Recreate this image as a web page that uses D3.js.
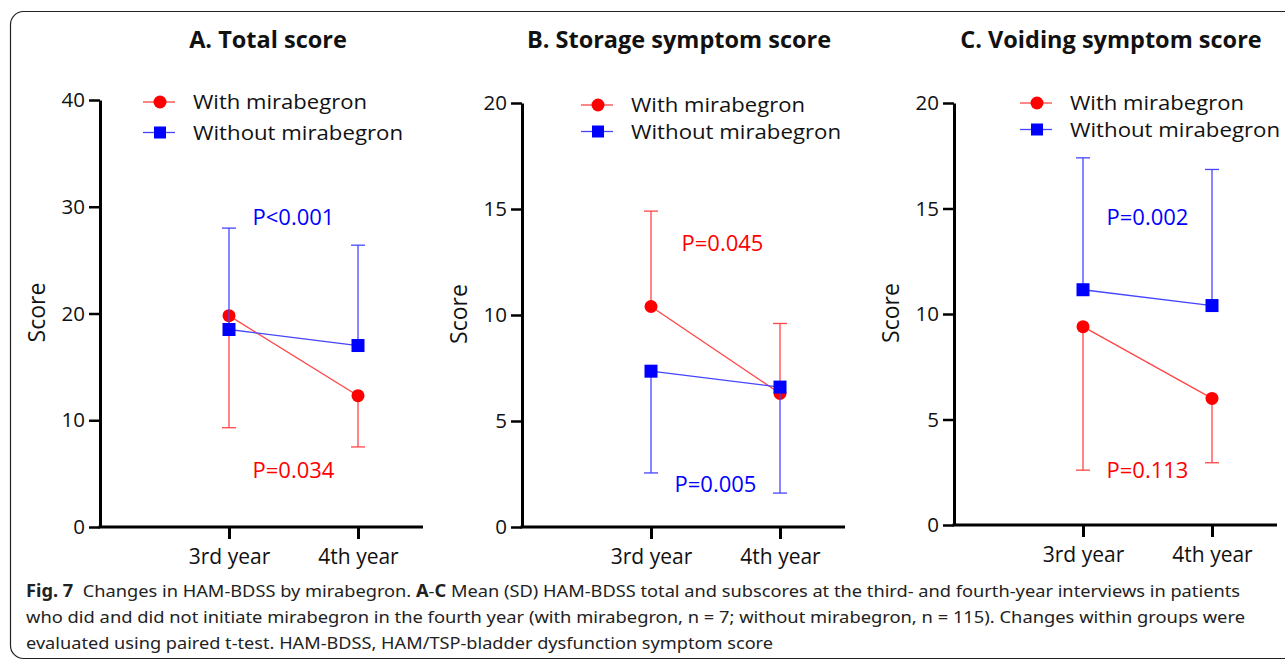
<!DOCTYPE html>
<html>
<head>
<meta charset="utf-8">
<script src="https://cdn.jsdelivr.net/npm/d3@7"></script>
<style>
  body { margin: 0; background: #fff; }
  svg { display: block; }
  text { font-family: "Open Sans", "DejaVu Sans", sans-serif; }
</style>
</head>
<body>
<script>
// ---- data ----
var years = ["3rd year", "4th year"];
var panelTitles = ["A. Total score", "B. Storage symptom score", "C. Voiding symptom score"];
var yMax = [40, 20, 20];
var yTicks = [[0, 10, 20, 30, 40], [0, 5, 10, 15, 20], [0, 5, 10, 15, 20]];

var withMean = [[19.8, 12.3], [10.4, 6.3], [9.4, 6.0]];
var withSD = [[10.5, 4.8], [4.5, 3.3], [6.8, 3.05]];
var withoutMean = [[18.5, 17.0], [7.35, 6.6], [11.15, 10.4]];
var withoutSD = [[9.5, 9.4], [4.8, 5.0], [6.25, 6.45]];
// which side the SD whisker is drawn (+1 up, -1 down)
var withSide = [-1, 1, -1];
var withoutSide = [1, -1, 1];

var pWith = ["P=0.034", "P=0.045", "P=0.113"];
var pWithout = ["P<0.001", "P=0.005", "P=0.002"];
var pWithY = [5.3, 13.4, 2.6];
var pWithoutY = [29.0, 2.0, 14.6];

var legendLabels = ["With mirabegron", "Without mirabegron"];

var captionLines = [
    [["Fig. 7", true], ["  Changes in HAM-BDSS by mirabegron. ", false], ["A", true], ["-", false], ["C", true],
     [" Mean (SD) HAM-BDSS total and subscores at the third- and fourth-year interviews in patients", false]],
    [["who did and did not initiate mirabegron in the fourth year (with mirabegron, n = 7; without mirabegron, n = 115). Changes within groups were", false]],
    [["evaluated using paired t-test. HAM-BDSS, HAM/TSP-bladder dysfunction symptom score", false]]
];

// ---- layout ----
var width = 1285,
    height = 662;
var panelLeft = [100, 522, 954],
    panelTop = [100, 103, 103],
    panelBottom = [527, 527, 525],
    axisLen = 323;
var legendOffset = [60, 76, 83],
    legendTop = [102, 105, 103],
    legendGap = [30.5, 26.5, 26.5],
    legendTextW = [174, 210];

var red = "#ff0000",
    blue = "#0000ff";

var svg = d3.select("body").append("svg")
    .attr("width", width)
    .attr("height", height);

// frame round the figure
svg.append("rect")
    .attr("x", 10.5)
    .attr("y", 11.5)
    .attr("width", 1300)
    .attr("height", 647)
    .attr("rx", 13)
    .attr("fill", "none")
    .attr("stroke", "#222")
    .attr("stroke-width", 1.2);

panelTitles.forEach(function(title, i) {
    var left = panelLeft[i];
    var y = d3.scaleLinear()
        .domain([0, yMax[i]])
        .range([panelBottom[i], panelTop[i]]);
    var x = d3.scalePoint()
        .domain(years)
        .range([left + 129, left + 258]);

    var g = svg.append("g").attr("class", "panel");

    // title
    g.append("text")
        .attr("x", left + (i === 0 ? 168 : 157))
        .attr("y", 48)
        .attr("text-anchor", "middle")
        .style("font-size", "23.5px")
        .style("font-weight", "bold")
        .attr("fill", "#111")
        .text(title);

    // y axis
    var yAxis = g.append("g")
        .attr("transform", "translate(" + left + ",0)")
        .call(d3.axisLeft(y).tickValues(yTicks[i]).tickSize(11).tickPadding(4).tickSizeOuter(0));
    yAxis.select(".domain").attr("stroke-width", 3);
    yAxis.selectAll(".tick line").attr("stroke-width", 2.5);
    yAxis.selectAll(".tick text").style("font-size", "20.5px").style("font-family", "Open Sans").attr("fill", "#111");

    // x axis
    var xAxis = g.append("g")
        .attr("transform", "translate(0," + panelBottom[i] + ")")
        .call(d3.axisBottom(x).tickSize(12).tickPadding(10));
    xAxis.select(".domain").remove();
    xAxis.append("line")
        .attr("x1", left - 1.5)
        .attr("x2", left + axisLen)
        .attr("stroke", "#000")
        .attr("stroke-width", 3);
    xAxis.selectAll(".tick line").attr("stroke-width", 3);
    xAxis.selectAll(".tick text").style("font-size", "21px").style("font-family", "Open Sans").attr("fill", "#111");

    // y label
    g.append("text")
        .attr("transform", "translate(" + (left - 63) + "," + ((panelTop[i] + panelBottom[i]) / 2 - 1) + ") rotate(-90)")
        .attr("text-anchor", "middle")
        .attr("dy", "0.35em")
        .attr("fill", "#111")
        .style("font-size", "23px")
        .text("Score");

    var series = [
        { mean: withMean[i], sd: withSD[i], side: withSide[i], color: red, line: "#ff4545", shape: "circle" },
        { mean: withoutMean[i], sd: withoutSD[i], side: withoutSide[i], color: blue, line: "#4545ff", shape: "square" }
    ];
    series.forEach(function(s) {
        var sg = g.append("g");
        // error bars
        years.forEach(function(yr, j) {
            var end = s.mean[j] + s.side * s.sd[j];
            sg.append("line")
                .attr("x1", x(yr)).attr("x2", x(yr))
                .attr("y1", y(s.mean[j])).attr("y2", y(end))
                .attr("stroke", s.line).attr("stroke-width", 1.3);
            sg.append("line")
                .attr("x1", x(yr) - 7).attr("x2", x(yr) + 7)
                .attr("y1", y(end)).attr("y2", y(end))
                .attr("stroke", s.line).attr("stroke-width", 1.3);
        });
        sg.append("path")
            .datum(s.mean)
            .attr("fill", "none")
            .attr("stroke", s.line)
            .attr("stroke-width", 1.3)
            .attr("d", d3.line()
                .x(function(d, j) { return x(years[j]); })
                .y(function(d) { return y(d); }));
        if (s.shape === "circle") {
            sg.selectAll("circle")
                .data(s.mean)
                .enter().append("circle")
                .attr("cx", function(d, j) { return x(years[j]); })
                .attr("cy", function(d) { return y(d); })
                .attr("r", 6.5)
                .attr("fill", s.color);
        } else {
            sg.selectAll("rect")
                .data(s.mean)
                .enter().append("rect")
                .attr("x", function(d, j) { return x(years[j]) - 6.5; })
                .attr("y", function(d) { return y(d) - 6.5; })
                .attr("width", 13)
                .attr("height", 13)
                .attr("fill", s.color);
        }
    });

    // p-values
    var mid = (x(years[0]) + x(years[1])) / 2;
    g.append("text")
        .attr("x", mid + (i === 1 ? 7 : 0))
        .attr("y", y(pWithY[i]))
        .attr("dy", "0.35em")
        .attr("text-anchor", "middle")
        .attr("fill", red)
        .style("font-size", "22px")
        .text(pWith[i]);
    g.append("text")
        .attr("x", mid)
        .attr("y", y(pWithoutY[i]))
        .attr("dy", "0.35em")
        .attr("text-anchor", "middle")
        .attr("fill", blue)
        .style("font-size", "22px")
        .text(pWithout[i]);

    // legend
    var lx = left + legendOffset[i];
    legendLabels.forEach(function(lab, k) {
        var row = g.append("g").attr("transform", "translate(" + lx + "," + (legendTop[i] + k * legendGap[i]) + ")");
        row.append("line")
            .attr("x1", -17).attr("x2", 15)
            .attr("stroke", k === 0 ? "#ff4545" : "#4545ff")
            .attr("stroke-width", 1.3);
        if (k === 0) {
            row.append("circle").attr("r", 6.5).attr("fill", red);
        } else {
            row.append("rect").attr("x", -6).attr("y", -6).attr("width", 12).attr("height", 12).attr("fill", blue);
        }
        row.append("text")
            .attr("x", 33)
            .attr("dy", "0.36em")
            .attr("fill", "#111")
            .attr("textLength", legendTextW[k])
            .attr("lengthAdjust", "spacingAndGlyphs")
            .style("font-size", "19.5px")
            .text(lab);
    });
});

// caption
var captionW = [1214, 1219, 747];
captionLines.forEach(function(parts, k) {
    var t = svg.append("text")
        .attr("x", 26)
        .attr("y", 597 + k * 26)
        .attr("textLength", captionW[k])
        .attr("lengthAdjust", "spacingAndGlyphs")
        .style("font-family", "'Noto Sans', sans-serif")
        .style("font-size", "17px")
        .attr("fill", "#222");
    parts.forEach(function(p) {
        t.append("tspan")
            .style("font-weight", p[1] ? "bold" : "normal")
            .attr("xml:space", "preserve")
            .text(p[0]);
    });
});
</script>
</body>
</html>
